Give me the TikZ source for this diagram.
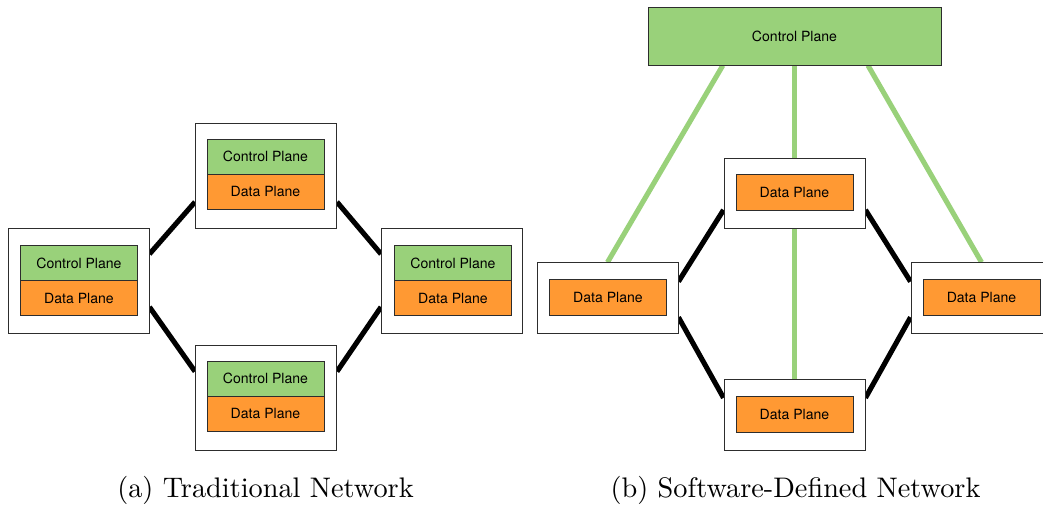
\documentclass[tikz,border=0pt]{standalone}
\usepackage{fontspec}
\newfontfamily\lab{TeX Gyre Heros}
\newfontfamily\capfont{lmroman10-regular.otf}
\usetikzlibrary{calc,backgrounds}
\definecolor{cpgreen}{RGB}{153,209,122}
\definecolor{dporange}{RGB}{255,153,51}
\definecolor{edgegray}{RGB}{45,45,45}
\tikzset{
  outerbox/.style={draw=edgegray, line width=0.55pt, fill=white, inner sep=0pt, minimum width=2.82cm},
  outera/.style={outerbox, minimum height=2.10cm},
  outerb/.style={outerbox, minimum height=1.41cm},
  planebox/.style={draw=edgegray, line width=0.5pt, inner sep=0pt, minimum width=2.34cm, font=\lab\fontsize{8}{9}\selectfont},
  ctrlbox/.style={planebox, fill=cpgreen, minimum height=0.70cm},
  databox/.style={planebox, fill=dporange, minimum height=0.70cm},
  datab/.style={planebox, fill=dporange, minimum height=0.72cm},
  link/.style={line width=2.9pt, black},
  ctrllink/.style={line width=2.9pt, cpgreen},
  caption/.style={font=\capfont\fontsize{16.1}{19}\selectfont, anchor=base, inner sep=0pt}
}
\begin{document}
\begin{tikzpicture}[x=0.02cm,y=-0.02cm]
\useasboundingbox (0,0) rectangle (1043,506);
% ---------- (a) traditional ----------
\node[outera] (La) at (78.5,280.5) {};
\node[ctrlbox] (Lac) at (79,263) {Control Plane};
\node[databox] (Lad) at (79,298) {Data Plane};
\node[outera] (Ta) at (266,175.5) {};
\node[ctrlbox] (Tac) at (265.5,156.5) {Control Plane};
\node[databox] (Tad) at (265.5,191.5) {Data Plane};
\node[outera] (Ba) at (266,398) {};
\node[ctrlbox] (Bac) at (265.5,378.5) {Control Plane};
\node[databox] (Bad) at (265.5,413.5) {Data Plane};
\node[outera] (Ra) at (452,280.5) {};
\node[ctrlbox] (Rac) at (453,263) {Control Plane};
\node[databox] (Rad) at (453,298) {Data Plane};
\begin{scope}[on background layer]
\draw[link] ($(La.north east)!.25!(La.south east)$) -- ($(Ta.north west)!.75!(Ta.south west)$);
\draw[link] ($(La.north east)!.75!(La.south east)$) -- ($(Ba.north west)!.25!(Ba.south west)$);
\draw[link] ($(Ta.north east)!.75!(Ta.south east)$) -- ($(Ra.north west)!.25!(Ra.south west)$);
\draw[link] ($(Ba.north east)!.25!(Ba.south east)$) -- ($(Ra.north west)!.75!(Ra.south west)$);
\end{scope}
% ---------- (b) SDN ----------
\node[draw=edgegray, line width=0.5pt, fill=cpgreen, inner sep=0pt, minimum width=5.86cm, minimum height=1.16cm, font=\lab\fontsize{8}{9}\selectfont] (Cp) at (794.5,36) {Control Plane};
\node[outerb] (Tb) at (794.5,193.5) {};
\node[datab] (Tbd) at (794.5,192) {Data Plane};
\node[outerb] (Lb) at (607.5,298) {};
\node[datab] (Lbd) at (608,297) {Data Plane};
\node[outerb] (Rb) at (981.5,298) {};
\node[datab] (Rbd) at (981.5,297.5) {Data Plane};
\node[outerb] (Bb) at (794.5,415) {};
\node[datab] (Bbd) at (794.5,414.5) {Data Plane};
\begin{scope}[on background layer]
\draw[ctrllink] ($(Cp.south west)!.256!(Cp.south east)$) -- (Lb.north);
\draw[ctrllink] ($(Cp.south west)!.75!(Cp.south east)$) -- (Rb.north);
\draw[ctrllink] (Cp.south) -- (Bb.north);
\draw[link] ($(Lb.north east)!.27!(Lb.south east)$) -- ($(Tb.north west)!.73!(Tb.south west)$);
\draw[link] ($(Lb.north east)!.77!(Lb.south east)$) -- ($(Bb.north west)!.26!(Bb.south west)$);
\draw[link] ($(Tb.north east)!.73!(Tb.south east)$) -- ($(Rb.north west)!.27!(Rb.south west)$);
\draw[link] ($(Bb.north east)!.26!(Bb.south east)$) -- ($(Rb.north west)!.77!(Rb.south west)$);
\end{scope}
% ---------- captions ----------
\node[caption] (capa) at (265.5,497) {(a) Traditional Network};
\node[caption] (capb) at (795.5,497) {(b) Software-Defined Network};
\end{tikzpicture}
\end{document}
